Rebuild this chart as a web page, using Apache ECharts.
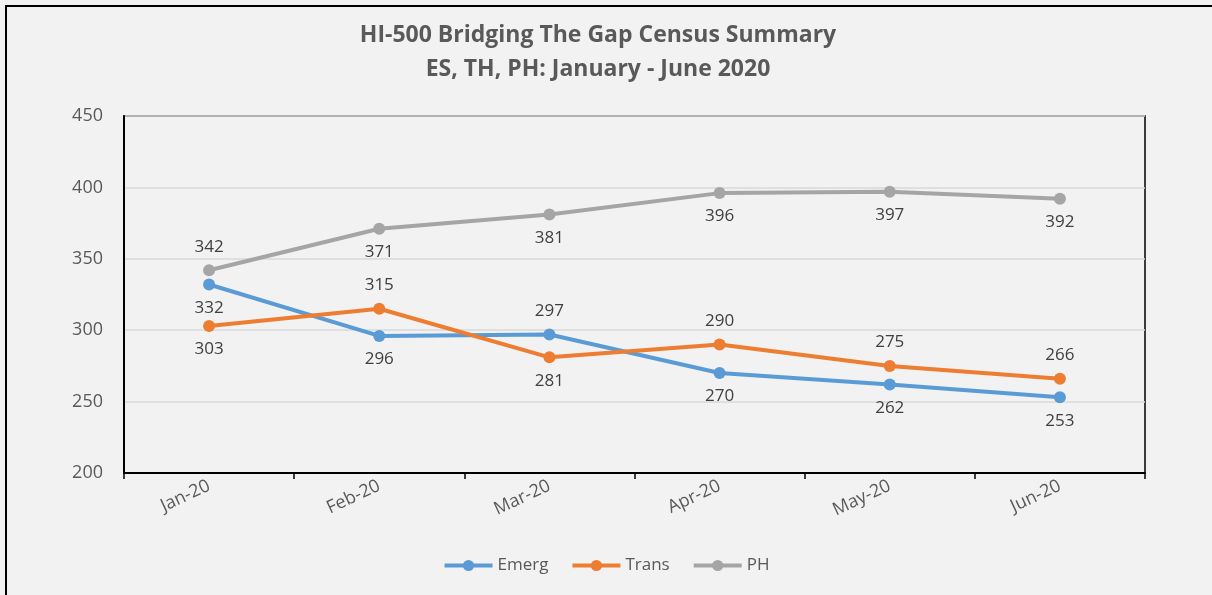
<!DOCTYPE html>
<html>
<head>
<meta charset="utf-8">
<script src="https://cdn.jsdelivr.net/npm/echarts@6/dist/echarts.min.js"></script>
<style>
  html, body { margin: 0; padding: 0; background: #f2f2f2; overflow: hidden; }
  #frame { position: absolute; left: 5px; top: 5px; width: 1240px; height: 640px; border: 2px solid #000; box-sizing: border-box; }
  #chart { position: absolute; left: 0; top: 0; width: 1212px; height: 595px; }
</style>
</head>
<body>
<div id="frame"></div>
<div id="chart"></div>
<script>
const categories = ['Jan-20', 'Feb-20', 'Mar-20', 'Apr-20', 'May-20', 'Jun-20'];
const emerg = [332, 296, 297, 270, 262, 253];
const trans = [303, 315, 281, 290, 275, 266];
const ph = [342, 371, 381, 396, 397, 392];
const yTicks = [200, 250, 300, 350, 400, 450];

const emergLabelPos = ['bottom', 'bottom', 'top', 'bottom', 'bottom', 'bottom'];
const transLabelPos = ['bottom', 'top', 'bottom', 'top', 'top', 'top'];
const phLabelPos = ['top', 'bottom', 'bottom', 'bottom', 'bottom', 'bottom'];

const FONT = 'Open Sans';

function mk(name, values, positions, color) {
  return {
    name: name,
    type: 'line',
    data: values.map((v, i) => ({
      value: v,
      label: { position: positions[i] }
    })),
    symbol: 'circle',
    symbolSize: 12,
    lineStyle: { width: 4, color: color },
    itemStyle: { color: color },
    label: {
      show: true,
      distance: 9,
      color: '#404040',
      fontFamily: FONT,
      fontSize: 17
    },
    z: 3
  };
}

const chart = echarts.init(document.getElementById('chart'), null, { renderer: 'canvas' });
chart.setOption({
  backgroundColor: 'transparent',
  animation: false,
  title: {
    text: 'HI-500 Bridging The Gap Census Summary\nES, TH, PH: January - June 2020',
    left: 593,
    textAlign: 'center',
    top: 13,
    textStyle: {
      fontFamily: FONT,
      fontWeight: 'bold',
      fontSize: 23,
      lineHeight: 34,
      color: '#595959'
    }
  },
  legend: {
    bottom: 16,
    left: 'center',
    itemWidth: 48,
    itemHeight: 14,
    itemGap: 22,
    lineStyle: { width: 4 },
    textStyle: { fontFamily: FONT, fontSize: 17, color: '#595959' },
    data: ['Emerg', 'Trans', 'PH']
  },
  grid: {
    left: 124,
    right: 67,
    top: 116,
    bottom: 122,
    show: true,
    borderColor: '#000',
    borderWidth: 1.5,
    backgroundColor: 'transparent'
  },
  xAxis: {
    type: 'category',
    data: categories,
    boundaryGap: true,
    axisLine: { lineStyle: { color: '#000', width: 2 } },
    axisTick: { show: true, length: 6, lineStyle: { color: '#000', width: 1.5 } },
    axisLabel: {
      rotate: 25,
      margin: 12,
      fontFamily: FONT,
      fontSize: 18,
      color: '#595959'
    }
  },
  yAxis: {
    type: 'value',
    min: yTicks[0],
    max: yTicks[yTicks.length - 1],
    interval: 50,
    axisLine: { show: true, lineStyle: { color: '#000', width: 2 } },
    axisTick: { show: false },
    axisLabel: {
      margin: 21,
      fontFamily: FONT,
      fontSize: 18,
      color: '#595959'
    },
    splitLine: { lineStyle: { color: '#d9d9d9', width: 1.5 } }
  },
  series: [
    mk('Emerg', emerg, emergLabelPos, '#5B9BD5'),
    mk('Trans', trans, transLabelPos, '#ED7D31'),
    mk('PH', ph, phLabelPos, '#A5A5A5')
  ]
});
</script>
</body>
</html>
